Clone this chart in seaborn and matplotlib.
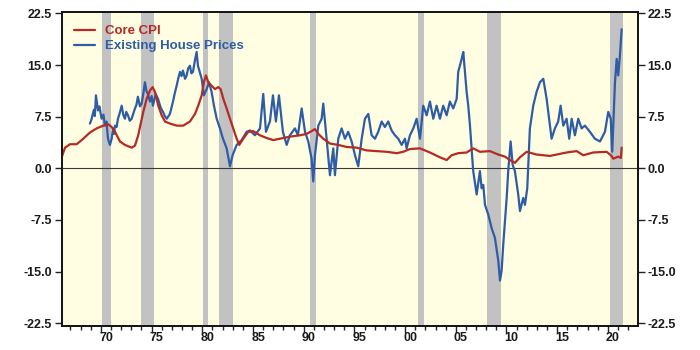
import matplotlib
matplotlib.use("Agg")
import matplotlib.pyplot as plt
import pandas as pd
import seaborn as sns

# Core CPI, year-over-year % change
cpi_year = [1966.13, 1966.46, 1966.95, 1967.61, 1968.26, 1968.92, 1969.58, 1970.23, 1970.73,
            1971.06, 1971.39, 1971.88, 1972.37, 1973.03, 1973.36, 1973.68, 1974.18, 1974.51,
            1974.84, 1975.10, 1975.33, 1975.66, 1975.99, 1976.32, 1976.81, 1977.47, 1978.12,
            1978.78, 1979.28, 1979.60, 1979.94, 1980.16, 1980.36, 1980.59, 1980.92, 1981.25,
            1981.57, 1981.81, 1982.07, 1982.40, 1982.73, 1983.05, 1983.39, 1983.64, 1984.04,
            1984.53, 1985.03, 1985.69, 1986.35, 1987.00, 1987.66, 1988.64, 1989.63, 1990.29,
            1990.78, 1991.11, 1991.44, 1991.93, 1992.59, 1993.41, 1994.24, 1995.22, 1996.21,
            1997.20, 1998.18, 1999.17, 1999.82, 2000.48, 2001.47, 2002.45, 2003.44, 2004.10,
            2004.59, 2005.24, 2006.07, 2006.72, 2007.38, 2008.37, 2009.19, 2009.85, 2010.34,
            2010.84, 2011.33, 2011.99, 2012.97, 2014.29, 2015.93, 2016.92, 2017.57, 2018.56,
            2019.88, 2020.37, 2020.53, 2021.02, 2021.28, 2021.36]
cpi_val = [1.6, 3.0, 3.5, 3.5, 4.3, 5.2, 5.8, 6.2, 6.4,
           6.0, 5.3, 3.9, 3.4, 3.0, 3.3, 4.8, 8.2, 10.1,
           11.3, 11.8, 11.1, 9.1, 7.7, 6.8, 6.5, 6.2, 6.2,
           6.8, 7.9, 9.1, 10.6, 12.5, 13.5, 12.5, 12.0, 11.5,
           11.8, 11.5, 10.1, 8.7, 7.2, 5.8, 4.3, 3.4, 4.3,
           5.3, 5.4, 4.8, 4.4, 4.1, 4.3, 4.6, 4.8, 5.0,
           5.4, 5.7, 5.0, 4.3, 3.6, 3.4, 3.1, 3.0, 2.6,
           2.5, 2.4, 2.2, 2.4, 2.8, 2.9, 2.3, 1.6, 1.2,
           1.9, 2.2, 2.3, 2.9, 2.4, 2.5, 2.0, 1.7, 1.2,
           0.8, 1.6, 2.4, 2.0, 1.8, 2.3, 2.5, 1.9, 2.3,
           2.4, 1.8, 1.4, 1.7, 1.5, 3.0]

# Existing single-family house prices, year-over-year % change
hp_year = [1968.92, 1969.09, 1969.30, 1969.40, 1969.51, 1969.71, 1969.85, 1970.07, 1970.25,
           1970.40, 1970.55, 1970.70, 1970.89, 1971.06, 1971.20, 1971.30, 1971.39, 1971.55,
           1971.68, 1971.85, 1972.05, 1972.20, 1972.37, 1972.50, 1972.67, 1972.85, 1973.03,
           1973.20, 1973.36, 1973.50, 1973.65, 1973.85, 1974.02, 1974.20, 1974.34, 1974.50,
           1974.64, 1974.84, 1975.00, 1975.13, 1975.40, 1975.63, 1975.90, 1976.12, 1976.30,
           1976.49, 1976.81, 1977.11, 1977.30, 1977.47, 1977.65, 1977.80, 1977.95, 1978.09,
           1978.30, 1978.46, 1978.60, 1978.78, 1978.92, 1979.08, 1979.25, 1979.44, 1979.57,
           1979.94,
           1980.16, 1980.43, 1980.66, 1980.92, 1981.15, 1981.42, 1981.74, 1982.04, 1982.40,
           1982.73, 1982.99, 1983.39, 1983.88, 1984.37, 1984.70, 1985.19, 1985.69, 1986.01,
           1986.28, 1986.67, 1986.97, 1987.26, 1987.56, 1987.95, 1988.32, 1988.64, 1989.14,
           1989.43, 1989.80, 1990.13, 1990.45, 1990.78, 1990.94, 1991.11, 1991.44, 1991.77,
           1991.93, 1992.26, 1992.59, 1992.92, 1993.08, 1993.41, 1993.74, 1994.07, 1994.39,
           1994.73, 1995.06, 1995.38, 1995.72, 1996.04, 1996.37, 1996.70, 1997.03, 1997.35,
           1997.69, 1998.01, 1998.34, 1998.67, 1999.00, 1999.33, 1999.66, 1999.99, 2000.15,
           2000.48, 2000.81, 2001.14, 2001.47, 2001.79, 2002.13, 2002.45, 2002.78, 2003.11,
           2003.44, 2003.76, 2004.10, 2004.42, 2004.75, 2005.09, 2005.24, 2005.58, 2005.74,
           2005.90, 2006.07, 2006.23, 2006.40, 2006.56, 2006.72, 2007.06, 2007.38, 2007.55,
           2007.71, 2007.88, 2008.20, 2008.54, 2008.86, 2009.19, 2009.36, 2009.52, 2009.68,
           2010.02, 2010.17, 2010.41, 2010.61, 2010.83, 2011.16, 2011.33, 2011.65, 2011.82,
           2012.05, 2012.31, 2012.64, 2012.97, 2013.30, 2013.63, 2013.96, 2014.12, 2014.45,
           2014.78, 2015.10, 2015.34, 2015.60, 2015.93, 2016.19, 2016.43, 2016.75, 2017.08,
           2017.41, 2017.74, 2018.23, 2018.72, 2019.22, 2019.71, 2020.04, 2020.28, 2020.43,
           2020.70, 2020.87, 2021.02, 2021.19, 2021.36]
hp_val = [6.5, 7.2, 8.5, 7.6, 10.6, 8.4, 9.0, 7.2, 7.8,
          6.2, 6.8, 4.3, 3.4, 4.3, 5.8, 5.0, 6.2, 6.0,
          7.2, 8.0, 9.1, 7.8, 7.2, 8.2, 7.7, 6.9, 7.2,
          8.0, 8.7, 9.2, 10.4, 9.0, 9.4, 11.0, 12.5, 11.2,
          10.8, 9.7, 10.5, 9.1, 10.8, 10.1, 8.8, 8.2, 7.6,
          7.2, 7.9, 9.7, 11.0, 12.0, 13.2, 14.0, 13.4, 14.2,
          13.0, 13.5, 14.5, 14.9, 13.8, 14.0, 15.5, 16.9, 14.9,
          13.0,
          10.6, 11.5, 12.5, 11.1, 9.1, 7.2, 5.8, 4.3, 2.9,
          0.3, 1.9, 3.4, 4.1, 5.3, 5.5, 4.8, 5.8, 10.8,
          5.3, 6.8, 10.6, 6.8, 10.6, 5.3, 3.4, 4.8, 5.8,
          4.8, 8.7, 5.3, 3.9, 1.4, -1.9, 1.9, 6.2, 7.2,
          9.4, 4.3, -1.0, 2.9, -1.0, 4.3, 5.8, 4.3, 5.3,
          3.9, 1.9, 0.3, 4.3, 7.2, 7.9, 4.8, 4.3, 5.3,
          6.8, 6.0, 6.8, 5.5, 4.8, 4.3, 3.4, 4.3, 2.9,
          4.8, 5.8, 7.2, 4.3, 9.1, 7.7, 9.7, 7.2, 9.1,
          7.2, 9.1, 7.7, 9.7, 8.7, 10.1, 14.0, 15.9, 16.9,
          14.0, 11.1, 9.1, 6.2, 2.9, -0.4, -3.8, -0.4, -2.9,
          -2.4, -5.3, -6.7, -8.7, -10.1, -13.4, -16.3, -14.9, -11.1,
          -4.3, -0.4, 3.9, 0.5, -0.4, -3.8, -6.2, -4.3, -5.3,
          -2.9, 5.8, 9.1, 11.1, 12.5, 13.0, 10.1, 8.2, 4.3,
          5.8, 6.8, 9.1, 6.2, 7.2, 4.3, 7.2, 4.8, 7.2,
          5.8, 6.2, 5.3, 4.3, 3.9, 5.3, 8.2, 7.2, 2.4,
          12.5, 15.9, 13.5, 16.4, 20.2]

# Shaded recession periods (start, end)
rec_start = [1970.07, 1973.95, 1980.10, 1981.64, 1990.62, 2001.30, 2008.04, 2020.20]
rec_end = [1970.99, 1975.23, 1980.59, 1982.99, 1991.20, 2001.89, 2009.45, 2021.46]

y_ticks = [-22.5, -15.0, -7.5, 0.0, 7.5, 15.0, 22.5]
y_labels = ["-22.5", "-15.0", "-7.5", "0.0", "7.5", "15.0", "22.5"]
x_label_years = [1970, 1975, 1980, 1985, 1990, 1995, 2000, 2005, 2010, 2015, 2020]
x_labels = ["70", "75", "80", "85", "90", "95", "00", "05", "10", "15", "20"]

RED = "#B52A25"
BLUE = "#2E5CA5"
TICK_FONT = dict(fontsize=9, fontweight="bold", color="#1a1a1a")

sns.set_theme(style="ticks")
plt.rcParams["font.family"] = ["Liberation Sans", "DejaVu Sans"]

fig = plt.figure(figsize=(7, 3.5), dpi=100)
fig.patch.set_facecolor("white")
ax = fig.add_axes([0.0881, 0.0686, 0.8233, 0.898])
ax.set_facecolor("#FFFEE2")

for a, b in zip(rec_start, rec_end):
    ax.axvspan(a, b, color="#C2C2C2", lw=0, zorder=1)
ax.axhline(0, color="#3a3a3a", lw=0.8, zorder=2)

hp = pd.DataFrame({"year": hp_year, "value": hp_val})
cpi = pd.DataFrame({"year": cpi_year, "value": cpi_val})
sns.lineplot(data=cpi, x="year", y="value", ax=ax, color=RED, lw=1.6,
             label="Core CPI", zorder=4, estimator=None, sort=False)
sns.lineplot(data=hp, x="year", y="value", ax=ax, color=BLUE, lw=1.6,
             label="Existing House Prices", zorder=3, estimator=None, sort=False)

ax.set_xlim(1966.13, 2022.97)
ax.set_ylim(-22.9, 22.75)
ax.set_xlabel("")
ax.set_ylabel("")

# year ticks at boundaries, labels centred in the year
ax.set_xticks(list(range(1970, 2023, 5)))
ax.set_xticks(list(range(1967, 2023)), minor=True)
ax.tick_params(axis="x", which="major", length=5, width=1, labelbottom=False, color="#222")
ax.tick_params(axis="x", which="minor", length=3, width=1, color="#222")
sec = ax.secondary_xaxis("bottom")
sec.set_xticks([y + 0.5 for y in x_label_years])
sec.set_xticklabels(x_labels, **TICK_FONT)
sec.tick_params(length=0, pad=4)
sec.spines["bottom"].set_visible(False)

ax.set_yticks(y_ticks)
ax.set_yticklabels(y_labels, **TICK_FONT)
ax.tick_params(axis="y", length=5, width=1, color="#222", pad=2)
ax2 = ax.twinx()
ax2.set_ylim(ax.get_ylim())
ax2.set_yticks(y_ticks)
ax2.set_yticklabels(y_labels, **TICK_FONT)
ax2.tick_params(axis="y", length=5, width=1, color="#222", pad=2)

for a in (ax, ax2):
    for s in a.spines.values():
        s.set_color("#111")
        s.set_linewidth(1.2)

leg = ax.legend(loc="upper left", bbox_to_anchor=(0.0, 0.995), frameon=False,
                handlelength=1.6, handletextpad=0.8, labelspacing=0.2,
                prop=dict(size=9.5, weight="bold"))
for txt, col in zip(leg.get_texts(), [RED, BLUE]):
    txt.set_color(col)
for ln in leg.get_lines():
    ln.set_linewidth(1.6)

fig.savefig("out.png", dpi=100)
